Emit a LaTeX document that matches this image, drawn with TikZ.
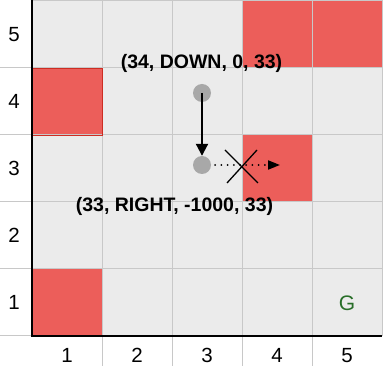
\documentclass[tikz,border=0pt]{standalone}
\usepackage{fontspec}
\setmainfont{Liberation Sans}
\usetikzlibrary{arrows.meta}
\definecolor{cellgray}{RGB}{235,235,235}
\definecolor{gridgray}{RGB}{200,200,200}
\definecolor{wallred}{RGB}{236,94,90}
\definecolor{walledge}{RGB}{205,45,35}
\definecolor{dotgray}{RGB}{168,168,168}
\definecolor{goalgreen}{RGB}{40,110,40}
\tikzset{
  wall/.style={fill=wallred},
  gridline/.style={draw=gridgray, line width=1pt},
  axisline/.style={draw=black, line width=1.6pt},
  axislabel/.style={inner sep=0pt, font=\fontsize{20.5}{22}\selectfont},
  tuple/.style={inner sep=0pt, font=\fontsize{19.5}{21}\selectfont\bfseries},
  statedot/.style={circle, fill=dotgray, minimum size=18pt, inner sep=0pt},
  moveline/.style={line width=2pt, -{Triangle[length=12pt,width=12pt]}},
  blockedline/.style={line width=2pt, line cap=round, dash pattern=on 0pt off 6.2pt, -{Triangle[length=12pt,width=9pt]}},
  crossline/.style={line width=1.3pt}
}
\begin{document}
\begin{tikzpicture}[x=1pt,y=-1pt]
\useasboundingbox (0,0) rectangle (384,366);
% background of grid
\fill[cellgray] (32,1) rectangle (382,336);
% walls
\fill[wall] (32,68) rectangle (102,135);
\fill[wall] (32,269) rectangle (102,336);
\fill[wall] (242,135) rectangle (312,202);
\fill[wall] (242,1) rectangle (312,68);
\fill[wall] (312,1) rectangle (382,68);
% grid lines
\foreach \yy in {68,135,202,269} \draw[gridline] (0,\yy) -- (382,\yy);
\draw[gridline] (0,336) -- (32,336);
\draw[gridline] (32,1) -- (382,1) -- (382,336);
\foreach \xx in {102,172,242,312} \draw[gridline] (\xx,1) -- (\xx,366);
\draw[draw=walledge, line width=0.8pt] (32,68) rectangle (102,135);
% axes
\draw[axisline] (32,0.5) -- (32,336) -- (382,336);
% axis labels
\node[axislabel] (r5) at (14,34.5) {5};
\node[axislabel] (r4) at (14,101.5) {4};
\node[axislabel] (r3) at (14,168.5) {3};
\node[axislabel] (r2) at (14,235.5) {2};
\node[axislabel] (r1) at (14,302.5) {1};
\node[axislabel] (c1) at (67,355.5) {1};
\node[axislabel] (c2) at (137,355.5) {2};
\node[axislabel] (c3) at (207,355.5) {3};
\node[axislabel] (c4) at (277,355.5) {4};
\node[axislabel] (c5) at (347,355.5) {5};
% goal
\node[axislabel, text=goalgreen, font=\fontsize{21}{23}\selectfont] (goal) at (347,303.5) {G};
% states
\node[statedot] (s1) at (202,93) {};
\node[statedot] (s2) at (202,165) {};
\coordinate (tgt) at (280,165);
\draw[moveline] (s1.center) -- (s2.north);
\draw[blockedline, shorten <=4pt] (s2.east) -- (tgt);
% cross
\draw[crossline] (225,150) -- (258,183);
\draw[crossline] (257,150) -- (227,183);
% tuples
\node[tuple] (t1) at (201.5,63) {(34, DOWN, 0, 33)};
\node[tuple] (t2) at (174.5,206.5) {(33, RIGHT, -1000, 33)};
\end{tikzpicture}
\end{document}
